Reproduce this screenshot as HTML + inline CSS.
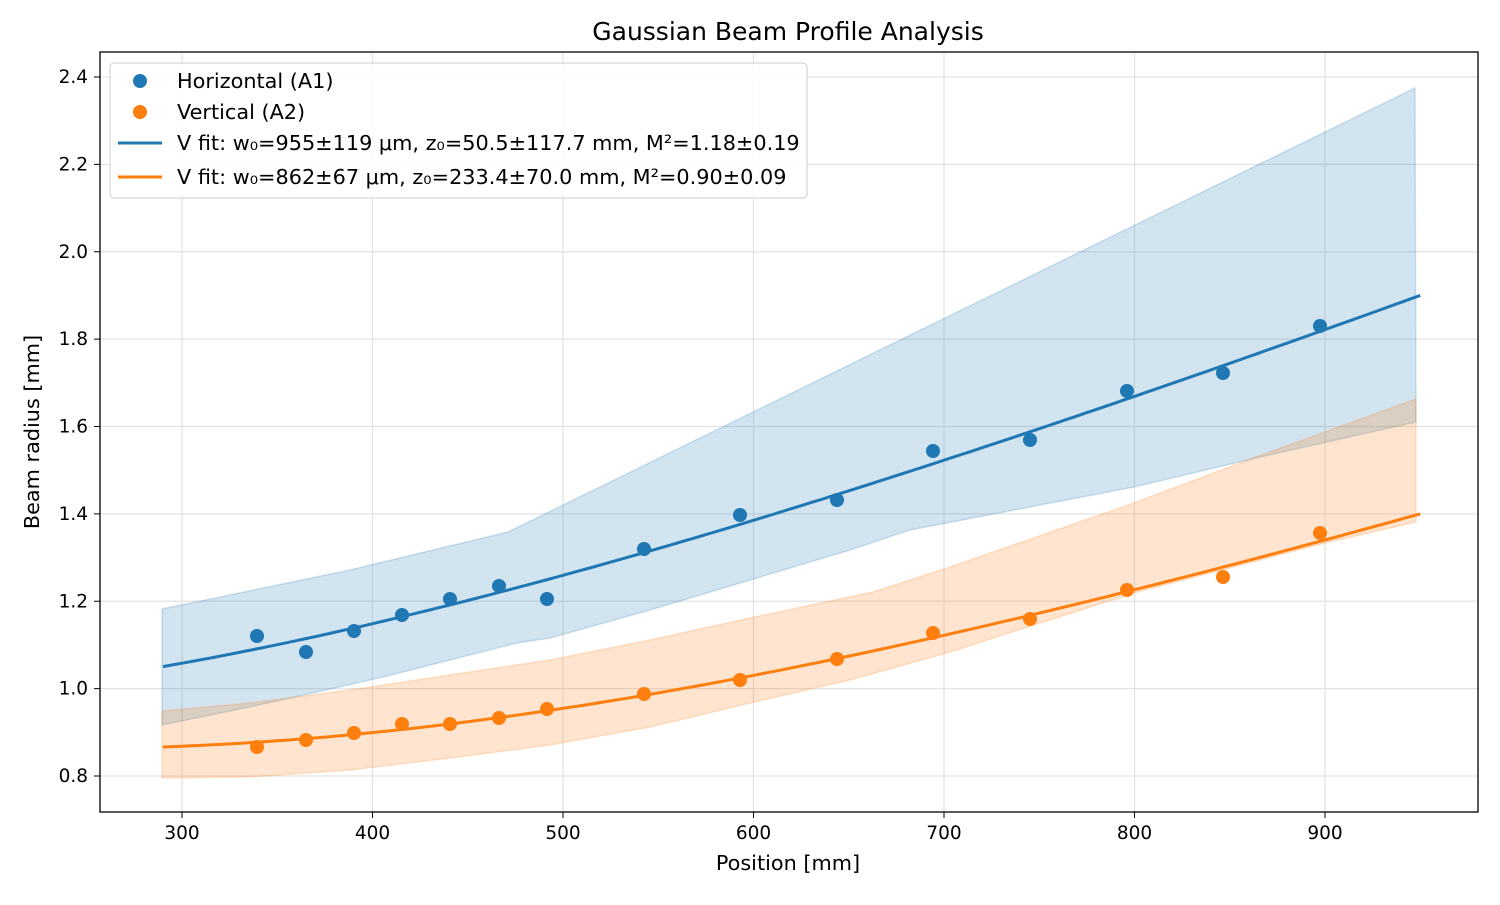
<!DOCTYPE html>
<html><head><meta charset="utf-8"><style>
body{margin:0;background:#fff;}
svg text{font-family:"DejaVu Sans","Liberation Sans",sans-serif;fill:#000;}
</style></head><body>
<svg id="s" width="1500" height="900" xmlns="http://www.w3.org/2000/svg">
<rect width="1500" height="900" fill="#fff"/>
<g id="grid" stroke="#e3e3e3" stroke-width="1.2"></g>
<path d="M162,609 L350,570 L508,532 L1415,88 L1416,422 L1256,458 L1134,487 L910,530 L850,550 L750,580 L650,610 L550,638 L517,643 L450,660 L383,677 L317,692 L250,707 L162,725 Z" fill="#1f77b4" fill-opacity="0.2" stroke="#1f77b4" stroke-opacity="0.2" stroke-width="1.5"/>
<path d="M162,711 L250,703 L350,690 L450,675 L550,660 L650,640 L750,618 L873,592 L950,567 L1134,503 L1256,457 L1416,399 L1416,522 L1325,543 L1134,593 L950,652 L850,680 L750,703 L650,727 L550,745 L450,758 L350,770 L250,777 L162,778 Z" fill="#ff7f0e" fill-opacity="0.2" stroke="#ff7f0e" stroke-opacity="0.2" stroke-width="1.5"/>
<path id="fb" fill="none" stroke="#1f77b4" stroke-width="3"/>
<path id="fo" fill="none" stroke="#ff7f0e" stroke-width="3"/>
<g id="pts"></g>
<rect x="100" y="52" width="1378" height="760" fill="none" stroke="#000" stroke-width="1.3"/>
<g id="ticks" font-size="18.5"></g>
<text x="788" y="40" font-size="25" text-anchor="middle">Gaussian Beam Profile Analysis</text>
<text x="788" y="870" font-size="20.8" text-anchor="middle">Position [mm]</text>
<text x="39" y="432" font-size="20.8" text-anchor="middle" transform="rotate(-90 39 432)">Beam radius [mm]</text>
<rect x="110" y="63" width="697" height="135" rx="4" fill="#fff" fill-opacity="0.85" stroke="#ccc"/>
<circle cx="140" cy="81" r="7" fill="#1f77b4"/>
<circle cx="140" cy="112" r="7" fill="#ff7f0e"/>
<line x1="118" y1="143" x2="162" y2="143" stroke="#1f77b4" stroke-width="3"/>
<line x1="118" y1="177" x2="162" y2="177" stroke="#ff7f0e" stroke-width="3"/>
<g font-size="20.8">
<text x="177" y="88">Horizontal (A1)</text>
<text x="177" y="119">Vertical (A2)</text>
<text x="177" y="150">V fit: w₀=955±119 μm, z₀=50.5±117.7 mm, M²=1.18±0.19</text>
<text x="177" y="184">V fit: w₀=862±67 μm, z₀=233.4±70.0 mm, M²=0.90±0.09</text>
</g>
</svg>
<script>
const X=v=>182+(v-300)*1.905, Y=v=>776-(v-0.8)*436.875;
let g=document.getElementById('grid'),t=document.getElementById('ticks'),h='',tt='';
for(let v=300;v<=900;v+=100){let x=X(v);h+=`<line x1="${x}" y1="52" x2="${x}" y2="812"/>`;tt+=`<line x1="${x}" y1="812" x2="${x}" y2="818" stroke="#000"/><text x="${x}" y="839" text-anchor="middle">${v}</text>`;}
for(let i=0;i<=8;i++){let v=0.8+i*0.2,y=Y(v);h+=`<line x1="100" y1="${y}" x2="1478" y2="${y}"/>`;tt+=`<line x1="94" y1="${y}" x2="100" y2="${y}" stroke="#000"/><text x="88" y="${y+6}" text-anchor="end">${v.toFixed(1)}</text>`;}
g.innerHTML=h;t.innerHTML=tt;
function curve(w0,z0,k){let d='';for(let z=290;z<=950;z+=5){let w=Math.sqrt(w0*w0+k*(z-z0)*(z-z0));d+=(d?'L':'M')+X(z).toFixed(1)+','+Y(w).toFixed(1);}return d;}
document.getElementById('fb').setAttribute('d',curve(0.955,50.5,3.335e-6));
document.getElementById('fo').setAttribute('d',curve(0.862,233.4,2.37e-6));
const bx=[257,306,354,402,450,499,547,644,740,837,933,1030,1127,1223,1320];
const by=[636,652,631,615,599,586,599,549,515,500,451,440,391,373,326];
const oy=[747,740,733,724,724,718,709,694,680,659,633,619,590,577,533];
let p='';bx.forEach((x,i)=>{p+=`<circle cx="${x}" cy="${by[i]}" r="7" fill="#1f77b4"/>`;});
bx.forEach((x,i)=>{p+=`<circle cx="${x}" cy="${oy[i]}" r="7" fill="#ff7f0e"/>`;});
document.getElementById('pts').innerHTML=p;
</script>
</body></html>
